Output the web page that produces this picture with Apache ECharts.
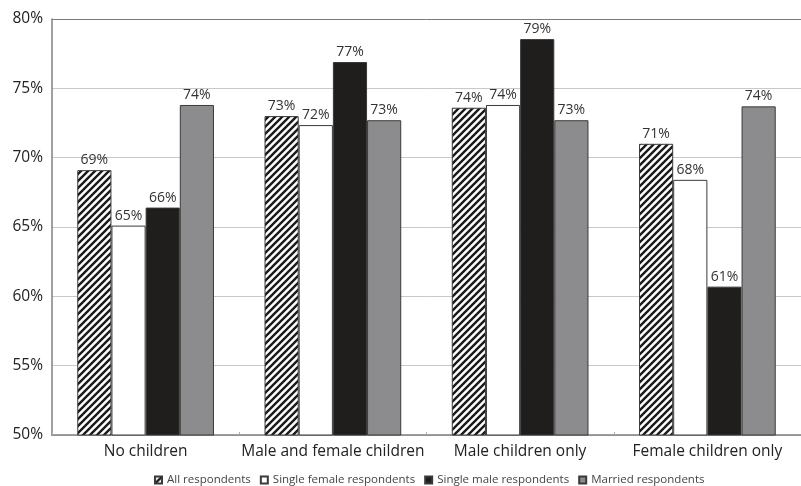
<!DOCTYPE html>
<html>
<head>
<meta charset="utf-8">
<script src="https://cdn.jsdelivr.net/npm/echarts@6/dist/echarts.min.js"></script>
<style>html,body{margin:0;padding:0;background:#fff}#c{width:801px;height:486px}</style>
</head>
<body>
<div id="c"></div>
<script>
const categories = ['No children', 'Male and female children', 'Male children only', 'Female children only'];
const allRespondents = [69.1, 73.0, 73.6, 71.0];
const singleFemale = [65.1, 72.35, 73.8, 68.4];
const singleMale = [66.4, 76.9, 78.55, 60.7];
const married = [73.8, 72.7, 72.7, 73.7];
const seriesNames = ['All respondents', 'Single female respondents', 'Single male respondents', 'Married respondents'];
const yTicks = [50, 55, 60, 65, 70, 75, 80];

function hatch() {
  const s = 7;
  const c = document.createElement('canvas');
  c.width = s; c.height = s;
  const g = c.getContext('2d');
  g.fillStyle = '#fff'; g.fillRect(0, 0, s, s);
  g.strokeStyle = '#1a1a1a'; g.lineWidth = 2.4;
  g.beginPath();
  g.moveTo(-1, s + 1); g.lineTo(s + 1, -1);
  g.moveTo(-1, 1); g.lineTo(1, -1);
  g.moveTo(s - 1, s + 1); g.lineTo(s + 1, s - 1);
  g.stroke();
  return c;
}

const chart = echarts.init(document.getElementById('c'), null, {renderer: 'canvas'});
const lbl = {
  show: true, position: 'top', distance: 3,
  fontFamily: 'Open Sans', fontSize: 14, color: '#333',
  formatter: p => Math.round(p.value) + '%'
};
const fills = [{image: hatch(), repeat: 'repeat'}, '#ffffff', '#1f1e1c', '#8c8c8e'];
const datas = [allRespondents, singleFemale, singleMale, married];

chart.setOption({
  animation: false,
  grid: {left: 52, top: 19, width: 760, bottom: 51, containLabel: false},
  legend: {
    left: 149, top: 469,
    itemWidth: 7, itemHeight: 7, itemGap: 9,
    icon: 'rect',
    textStyle: {fontFamily: 'Open Sans', fontSize: 11.5, color: '#444', padding: [0, 0, 0, 0]},
    data: seriesNames
  },
  xAxis: {
    type: 'category', data: categories,
    axisLine: {lineStyle: {color: '#808080', width: 1.5}},
    axisTick: {show: true, inside: true, length: 3, lineStyle: {color: '#aaa'}},
    axisLabel: {fontFamily: 'Open Sans', fontSize: 15.5, color: '#222', margin: 9, interval: 0}
  },
  yAxis: {
    type: 'value', min: yTicks[0], max: yTicks[yTicks.length - 1], interval: 5,
    axisLine: {show: true, lineStyle: {color: '#808080', width: 1.5}},
    axisTick: {show: false},
    axisLabel: {fontFamily: 'Open Sans', fontSize: 15.5, color: '#222', margin: 9, formatter: '{value}%'},
    splitLine: {lineStyle: {color: ['#c8c8c8', '#c8c8c8', '#c8c8c8', '#c8c8c8', '#c8c8c8', '#c8c8c8', '#7a7a7a']}}
  },
  series: seriesNames.map((n, i) => ({
    name: n, type: 'bar', data: datas[i],
    barGap: '0%', barCategoryGap: '27%',
    itemStyle: {color: fills[i], borderColor: '#3a3a3a', borderWidth: 1},
    label: lbl
  }))
});
</script>
</body>
</html>
